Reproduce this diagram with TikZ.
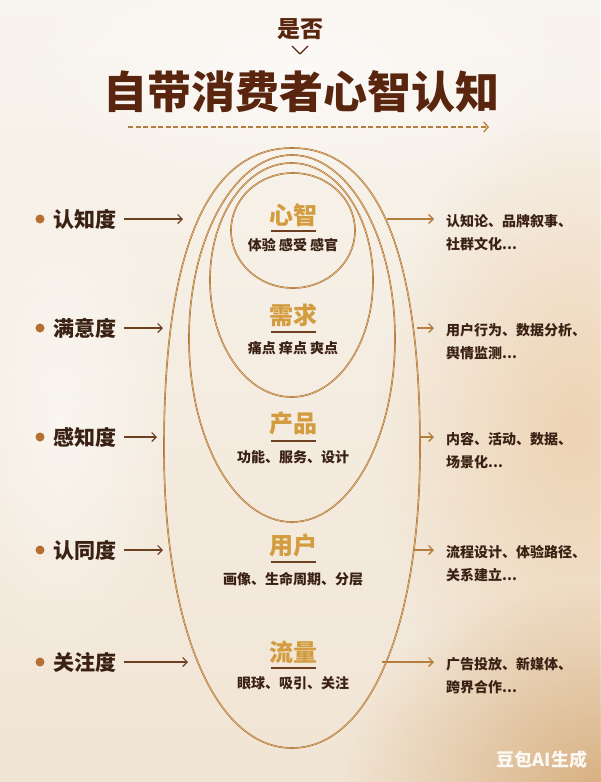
\documentclass[tikz,border=0pt]{standalone}
\usepackage{fontspec}
\setmainfont{Noto Sans CJK SC}
\usetikzlibrary{arrows.meta,fadings,positioning}
\tikzfading[name=glowfade, inner color=transparent!0, outer color=transparent!100]
\definecolor{bgtop}{HTML}{F8F4EE}
\definecolor{bgbot}{HTML}{F1E5D4}
\definecolor{warm}{HTML}{EBCBA4}
\definecolor{deepwarm}{HTML}{D4A874}
\definecolor{ink}{HTML}{3A2114}
\definecolor{titlebrown}{HTML}{5A250E}
\definecolor{bulletcol}{HTML}{B56F30}
\definecolor{arrowbrown}{HTML}{6E4022}
\definecolor{arrowgold}{HTML}{B47F3E}
\definecolor{ringbrown}{HTML}{A8692F}
\definecolor{ringgold}{HTML}{EDCB8C}
\definecolor{goldtext}{HTML}{D29C3F}
\newcommand{\tdots}{...}
\tikzset{
  lbl/.style={font=\bfseries\fontsize{21}{24}\selectfont, text=ink, inner sep=0pt, anchor=west},
  dot/.style={circle, fill=bulletcol, inner sep=0pt, minimum size=9pt},
  larr/.style={draw=arrowbrown, line width=1.1pt, -{Straight Barb[length=4.5pt,width=9pt]}},
  rarr/.style={draw=arrowgold, line width=1.3pt, -{Straight Barb[length=4.5pt,width=9pt]}},
  rtext/.style={font=\bfseries\fontsize{14}{17}\selectfont, text=ink, inner sep=0pt, anchor=west},
  ring/.style={draw=ringbrown, line width=1.6pt},
  ringhi/.style={draw=ringgold, line width=0.5pt},
  ctitle/.style={font=\bfseries\fontsize{24}{26}\selectfont, text=goldtext, inner sep=0pt},
  csub/.style={font=\bfseries\fontsize{14}{16}\selectfont, text=ink, inner sep=0pt},
  uline/.style={draw=arrowbrown, line width=1.2pt}
}
\begin{document}
\begin{tikzpicture}[x=1pt,y=-1pt]
\useasboundingbox (0,0) rectangle (600,782);
\shade[top color=bgtop, bottom color=bgbot] (0,0) rectangle (600,782);
\fill[warm, opacity=0.75, path fading=glowfade] (575,430) ellipse [x radius=200pt, y radius=320pt];
\fill[deepwarm, opacity=0.85, path fading=glowfade] (600,782) ellipse [x radius=260pt, y radius=200pt];
\fill[white, opacity=0.6, path fading=glowfade] (300,70) ellipse [x radius=300pt, y radius=120pt];
\fill[white, opacity=0.5, path fading=glowfade] (60,420) ellipse [x radius=120pt, y radius=260pt];

\node[font=\bfseries\fontsize{23}{26}\selectfont, text=titlebrown, inner sep=0pt] (ask) at (300,29) {是否};
\coordinate (vl) at (292,46);
\coordinate (vr) at (308,46);
\draw[titlebrown, line width=1.3pt, line join=round] (vl) -- (300,54) -- (vr);
\node[font=\bfseries\fontsize{44}{48}\selectfont, text=titlebrown, inner sep=0pt] (title) at (301,92) {自带消费者心智认知};
\coordinate (ds) at (128,127);
\coordinate (de) at (489,127);
\draw[arrowgold, line width=1.3pt, dash pattern=on 5pt off 2.5pt, -{Straight Barb[length=4.5pt,width=10pt]}] (ds) -- (de);

% rings
\draw[ring] (292,148) .. controls (376.5,148) and (420,250) .. (420,448)
  .. controls (420,628) and (368.8,748) .. (292,748)
  .. controls (215.2,748) and (164,628) .. (164,448)
  .. controls (164,250) and (207.5,148) .. (292,148) -- cycle;
\draw[ringhi] (292,148) .. controls (376.5,148) and (420,250) .. (420,448)
  .. controls (420,628) and (368.8,748) .. (292,748)
  .. controls (215.2,748) and (164,628) .. (164,448)
  .. controls (164,250) and (207.5,148) .. (292,148) -- cycle;
\draw[ring] (292,338.5) ellipse [x radius=103pt, y radius=183.5pt];
\draw[ringhi] (292,338.5) ellipse [x radius=103pt, y radius=183.5pt];
\draw[ring] (291.5,280) ellipse [x radius=81.5pt, y radius=117pt];
\draw[ringhi] (291.5,280) ellipse [x radius=81.5pt, y radius=117pt];
\draw[ring] (293,230.5) ellipse [x radius=62pt, y radius=57.5pt];
\draw[ringhi] (293,230.5) ellipse [x radius=62pt, y radius=57.5pt];

\foreach \ty/\uy/\sy/\head/\sub [count=\i] in {
  215/231/245/心智/体验 感受 感官,
  315/332/348/需求/痛点 痒点 爽点,
  423/441/457/产品/功能、服务、设计,
  545/562/579/用户/画像、生命周期、分层,
  652/668/683/流量/眼球、吸引、关注}{
  \node[ctitle] (ct\i) at (293,\ty) {\head};
  \draw[uline] (270.5,\uy) -- (315.5,\uy);
  \node[csub] (cs\i) at (293,\sy) {\sub};
}

\foreach \yy/\lab/\le/\rs/\ra/\rb [count=\i] in {
  219/认知度/183/387/认知论、品牌叙事、/社群文化\tdots,
  328/满意度/163/417/用户行为、数据分析、/舆情监测\tdots,
  437/感知度/157/421/内容、活动、数据、/场景化\tdots,
  550/认同度/163/413/流程设计、体验路径、/关系建立\tdots,
  662/关注度/188/382/广告投放、新媒体、/跨界合作\tdots}{
  \node[dot] (b\i) at (40,\yy) {};
  \node[lbl] (l\i) at (53,\yy) {\lab};
  \coordinate (le\i) at (\le,\yy);
  \draw[larr] ([xshift=8pt]l\i.east) -- (le\i);
  \coordinate (rs\i) at (\rs,\yy);
  \node[rtext] (ra\i) at (446,\yy+2) {\ra};
  \node[rtext] (rb\i) at (446,\yy+25) {\rb};
  \draw[rarr] (rs\i) -- ([xshift=-12pt]ra\i.west |- rs\i);
}

\node[font=\bfseries\fontsize{18}{20}\selectfont, text=white, opacity=0.9, inner sep=0pt] (mark) at (542,760) {豆包AI生成};
\end{tikzpicture}
\end{document}
